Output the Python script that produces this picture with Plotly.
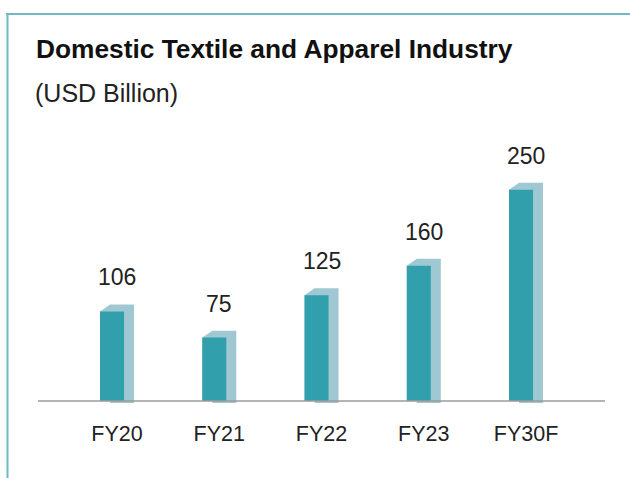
import plotly.graph_objects as go

categories = ["FY20", "FY21", "FY22", "FY23", "FY30F"]
values = [106, 75, 125, 160, 250]
title_text = "Domestic Textile and Apparel Industry"
subtitle_text = "(USD Billion)"

FRONT = "#31A0AC"
BACK = "#A0C8D2"
FRAME = "#6DB9C4"
BASE = "#9B9B9B"
FONT = "Liberation Sans, Arial, sans-serif"

W, H = 630, 478
ML, MR, MT, MB = 38, 25, 130, 74
XMIN, XMAX = -0.724, 4.821
YMIN, YMAX = -3.55, 320.7

half = 0.1174     # half width of front face (x units)
depth = 0.0978    # side depth (x units)
rise = 8.28       # top rise (y units)
under = -2.4

xs = list(range(len(categories)))

# back faces (top + side) and front faces as polygons
bx, by = [], []
fx, fy = [], []
for i, v in zip(xs, values):
    xl, xr = i - half, i + half
    pts = [(xl, 0), (xl, v), (xl + depth, v + rise), (xr + depth, v + rise),
           (xr + depth, under), (xl + depth, under), (xl + depth, 0), (xl, 0)]
    bx += [p[0] for p in pts] + [None]
    by += [p[1] for p in pts] + [None]
    fpts = [(xl, 0), (xl, v), (xr, v), (xr, 0), (xl, 0)]
    fx += [p[0] for p in fpts] + [None]
    fy += [p[1] for p in fpts] + [None]

fig = go.Figure()
fig.add_trace(go.Scatter(x=bx, y=by, mode="lines", fill="toself", fillcolor=BACK,
                         line=dict(width=0, color=BACK), hoverinfo="skip", showlegend=False))
fig.add_trace(go.Scatter(x=fx, y=fy, mode="lines", fill="toself", fillcolor=FRONT,
                         line=dict(width=0, color=FRONT), hoverinfo="skip", showlegend=False))

pw = W - ML - MR
ph = H - MT - MB
def pxx(p):
    return (p - ML) / pw
def pyy(p):
    return (H - MB - p) / ph

annotations = []
for i, v in zip(xs, values):
    annotations.append(dict(x=i + depth / 2, y=v + rise, xref="x", yref="y", text=str(v),
                            showarrow=False, yanchor="bottom", yshift=12,
                            font=dict(family=FONT, size=23, color="#222222")))
annotations.append(dict(x=pxx(34), y=pyy(49), xref="paper", yref="paper", xanchor="left", yanchor="middle",
                        text="<b>" + title_text + "</b>", showarrow=False,
                        font=dict(family=FONT, size=26.3, color="#111111")))
annotations.append(dict(x=pxx(33), y=pyy(93), xref="paper", yref="paper", xanchor="left", yanchor="middle",
                        text=subtitle_text, showarrow=False,
                        font=dict(family=FONT, size=25, color="#222222")))

shapes = [
    dict(type="line", xref="paper", yref="paper", x0=pxx(6), x1=pxx(631), y0=pyy(14), y1=pyy(14),
         line=dict(color=FRAME, width=2), layer="above"),
    dict(type="line", xref="paper", yref="paper", x0=pxx(7.5), x1=pxx(7.5), y0=pyy(13), y1=pyy(479),
         line=dict(color=FRAME, width=2), layer="above"),
    dict(type="line", xref="paper", yref="y", x0=0, x1=1, y0=0, y1=0,
         line=dict(color=BASE, width=1.5), layer="above"),
]

fig.update_layout(
    width=W, height=H,
    margin=dict(l=ML, r=MR, t=MT, b=MB, pad=0),
    paper_bgcolor="white", plot_bgcolor="white",
    showlegend=False,
    xaxis=dict(range=[XMIN, XMAX], tickvals=[i + depth / 2 for i in xs], ticktext=categories,
               showgrid=False, zeroline=False, showline=False, ticks="",
               tickfont=dict(family=FONT, size=21.5, color="#222222"), ticklabelstandoff=14),
    yaxis=dict(range=[YMIN, YMAX], visible=False, showgrid=False, zeroline=False),
    annotations=annotations,
    shapes=shapes,
)

fig.write_html("out.html", config={"displayModeBar": False},
               post_script="document.body.style.margin='0';document.body.style.overflow='hidden';")
